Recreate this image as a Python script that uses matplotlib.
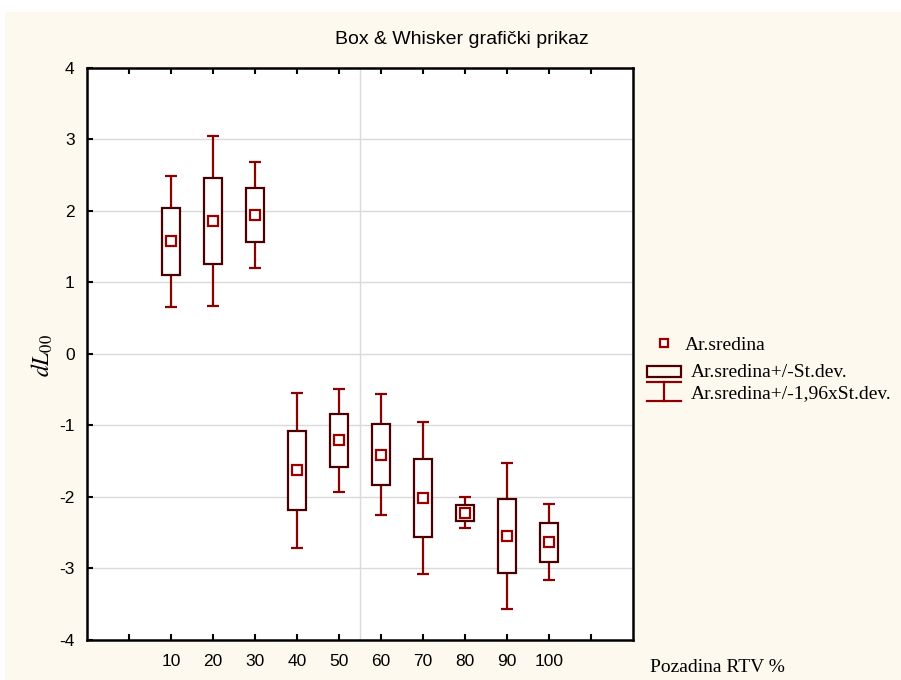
import matplotlib
matplotlib.use("Agg")
import matplotlib.pyplot as plt
from matplotlib.patches import Rectangle
from matplotlib.lines import Line2D
import numpy as np

# Background percentage groups, group means and standard deviations of dL00
categories = ["10", "20", "30", "40", "50", "60", "70", "80", "90", "100"]
means = [1.57, 1.855, 1.94, -1.627, -1.212, -1.408, -2.018, -2.223, -2.545, -2.633]
sds = [0.468, 0.603, 0.38, 0.552, 0.365, 0.433, 0.542, 0.11, 0.521, 0.272]
y_ticks = [-4, -3, -2, -1, 0, 1, 2, 3, 4]

title = "Box & Whisker grafički prikaz"
x_label = "Pozadina RTV %"
y_label = r"$dL_{\mathit{00}}$"
legend_labels = ["Ar.sredina", "Ar.sredina+/-St.dev.", "Ar.sredina+/-1,96xSt.dev."]

W, H = 901, 680
BG = "#FEF9EE"
WHISK = "#8B0000"
BOXC = "#4A0000"
MEANC = "#9A0000"

plt.rcParams["mathtext.fontset"] = "stix"

fig = plt.figure(figsize=(W / 100, H / 100), dpi=100, facecolor="white")
fig.add_artist(Rectangle((5 / W, 0), 1, 1 - 12 / H, transform=fig.transFigure,
                         facecolor=BG, edgecolor="none", zorder=-10))

def fx(px):
    return px / W

def fy(py):
    return 1 - py / H

ax = fig.add_axes([fx(87), fy(640), (633 - 87) / W, (640 - 67.5) / H])
ax.set_facecolor("white")

means = np.array(means)
sds = np.array(sds)
pos = np.arange(2, 2 + len(categories))

box_w = 0.43
cap_w = 0.29

# whiskers: mean +/- 1.96 sd
lo = means - 1.96 * sds
hi = means + 1.96 * sds
ax.vlines(pos, lo, means - sds, color=WHISK, lw=1.6, zorder=3)
ax.vlines(pos, means + sds, hi, color=WHISK, lw=1.6, zorder=3)
ax.hlines(lo, pos - cap_w / 2, pos + cap_w / 2, color=WHISK, lw=1.6, zorder=3)
ax.hlines(hi, pos - cap_w / 2, pos + cap_w / 2, color=WHISK, lw=1.6, zorder=3)

# boxes: mean +/- sd
ax.bar(pos, 2 * sds, bottom=means - sds, width=box_w, facecolor="white",
       edgecolor=BOXC, linewidth=1.6, zorder=4)

# means
ax.plot(pos, means, linestyle="none", marker="s", markersize=6.5,
        markerfacecolor="white", markeredgecolor=MEANC, markeredgewidth=1.6, zorder=5)

ax.set_xlim(0, 13)
ax.set_ylim(-4, 4)
ax.set_yticks(y_ticks)
ax.set_yticklabels([str(v) for v in y_ticks])
ax.set_xticks(np.arange(1, 13))
ax.set_xticklabels([""] + categories + [""])

ax.grid(False)
for v in y_ticks[1:-1]:
    ax.axhline(v, color="#DADADA", lw=1.0, zorder=1)
ax.axvline(6.5, color="#DADADA", lw=1.0, zorder=1)

for side in ["left", "bottom", "top", "right"]:
    ax.spines[side].set_linewidth(1.8)
    ax.spines[side].set_color("black")

ax.tick_params(axis="x", direction="in", length=4, width=1.5, top=True, bottom=True,
               labelsize=12.5, pad=10, labelfontfamily="Liberation Sans")
ax.tick_params(axis="y", direction="in", length=4, width=1.5, left=True, right=False,
               labelsize=12.5, pad=9, labelfontfamily="Liberation Sans")

fig.text(fx(462), fy(40), title, ha="center", va="center", fontsize=14,
         family="Liberation Sans")
fig.text(fx(650), fy(667), x_label, ha="left", va="center", fontsize=14,
         family="Liberation Serif")
fig.text(fx(42), fy(355), y_label, ha="center", va="center", fontsize=17, rotation=90)

# legend
fig.add_artist(Line2D([fx(664)], [fy(343)], transform=fig.transFigure, linestyle="none",
                      marker="s", markersize=6, markerfacecolor="white",
                      markeredgecolor=MEANC, markeredgewidth=1.6))
fig.add_artist(Rectangle((fx(647), fy(377)), (681 - 647) / W, (377 - 366) / H,
                         transform=fig.transFigure, facecolor="none",
                         edgecolor=BOXC, linewidth=1.6))
for yy in (382, 401):
    fig.add_artist(Line2D([fx(647), fx(681)], [fy(yy), fy(yy)], transform=fig.transFigure,
                          color=WHISK, lw=1.6))
fig.add_artist(Line2D([fx(664), fx(664)], [fy(382), fy(401)], transform=fig.transFigure,
                      color=WHISK, lw=1.6))
for lab, xx, yy in zip(legend_labels, [685, 691, 691], [345, 372, 394]):
    fig.text(fx(xx), fy(yy), lab, ha="left", va="center", fontsize=14,
             family="Liberation Serif")

fig.savefig("out.png", dpi=100, facecolor=fig.get_facecolor())
